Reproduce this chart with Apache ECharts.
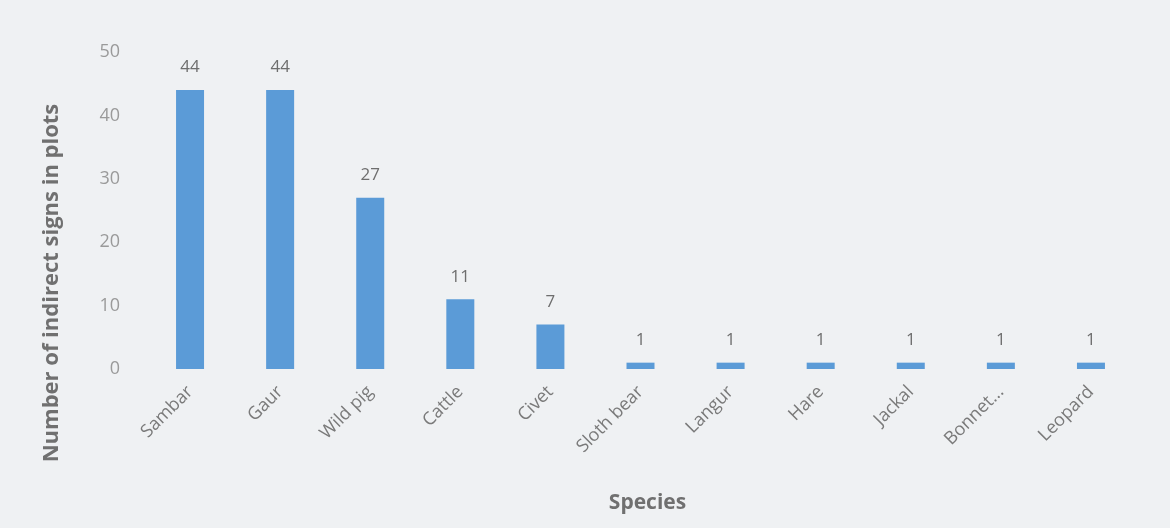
<!DOCTYPE html>
<html>
<head>
<meta charset="utf-8">
<script src="https://cdn.jsdelivr.net/npm/echarts@6/dist/echarts.min.js"></script>
<style>
html,body{margin:0;padding:0;background:#eff1f3;}
#chart{width:1170px;height:528px;}
</style>
</head>
<body>
<div id="chart"></div>
<script>
const species = ["Sambar","Gaur","Wild pig","Cattle","Civet","Sloth bear","Langur","Hare","Jackal","Bonnet...","Leopard"];
const counts = [44,44,27,11,7,1,1,1,1,1,1];
const yTicks = [0,10,20,30,40,50];
const yTitle = 'Number of indirect signs in plots';
const xTitle = 'Species';

const chart = echarts.init(document.getElementById('chart'));
chart.setOption({
  backgroundColor: '#eff1f3',
  animation: false,
  grid: {left: 145, right: 34, top: 52, bottom: 159},
  graphic: [{
    type: 'text',
    x: 52, y: 283,
    rotation: Math.PI / 2,
    style: {
      text: yTitle,
      fontFamily: 'Open Sans', fontSize: 22, fontWeight: 'bold',
      fill: '#707070', align: 'center', verticalAlign: 'middle'
    }
  }],
  xAxis: {
    type: 'category',
    data: species,
    name: xTitle,
    nameLocation: 'middle',
    nameGap: 124,
    nameTextStyle: {fontFamily: 'Open Sans', fontSize: 21, fontWeight: 'bold', color: '#707070', padding: [0, 0, 0, 14]},
    axisLine: {show: false},
    axisTick: {show: false},
    axisLabel: {rotate: 45, interval: 0, fontFamily: 'Open Sans', fontSize: 18, color: '#7a7a7a', margin: 20}
  },
  yAxis: {
    type: 'value',
    min: yTicks[0],
    max: yTicks[yTicks.length - 1],
    interval: 10,
    axisLine: {show: false},
    axisTick: {show: false},
    splitLine: {show: false},
    axisLabel: {fontFamily: 'Open Sans', fontSize: 18, color: '#9a9a9a', margin: 25}
  },
  series: [{
    type: 'bar',
    data: counts,
    barWidth: 28,
    itemStyle: {color: '#5b9bd7'},
    label: {show: true, position: 'top', distance: 14, fontFamily: 'Open Sans', fontSize: 17, color: '#6e6e6e'}
  }]
});
</script>
</body>
</html>
